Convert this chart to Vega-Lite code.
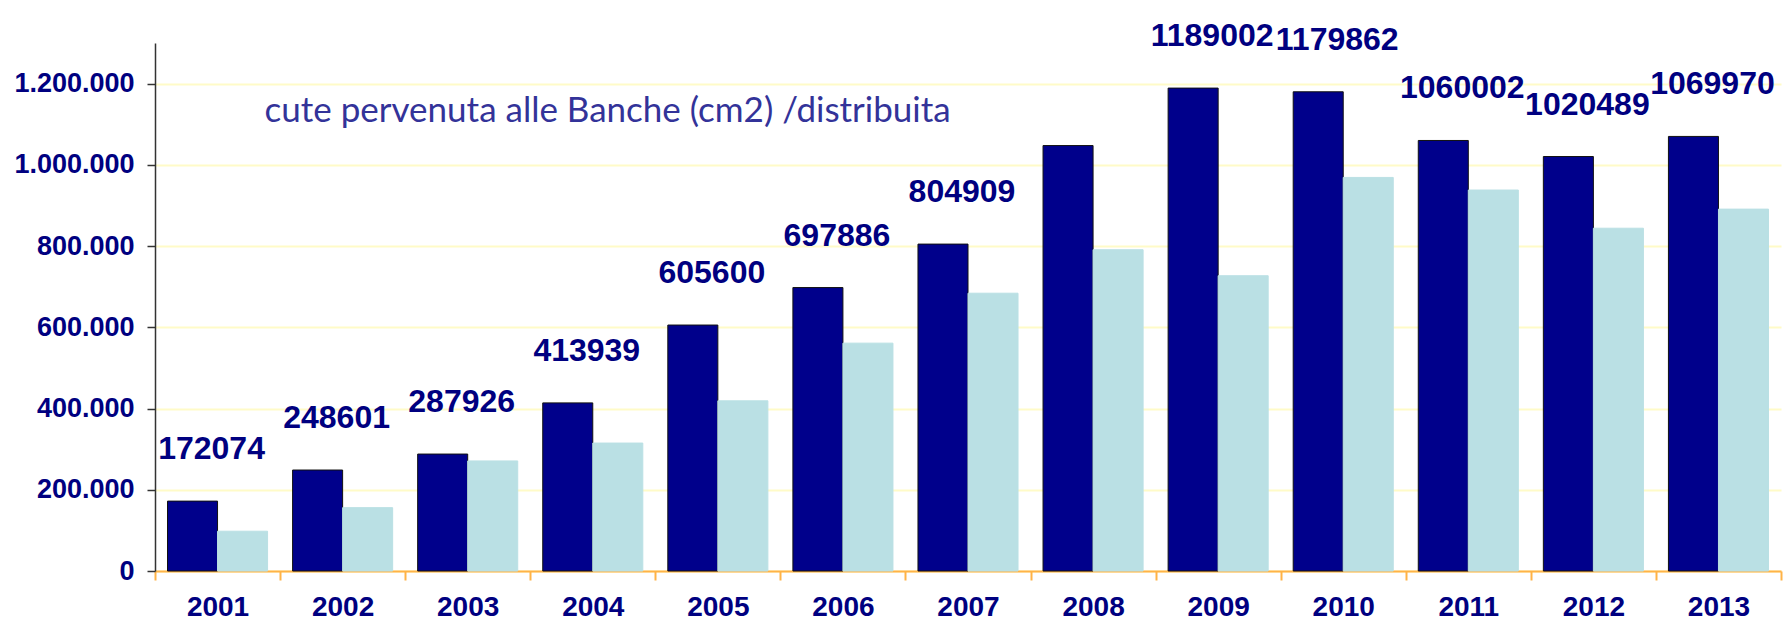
{
  "$schema": "https://vega.github.io/schema/vega-lite/v6.json",
  "width": 1626,
  "height": 528,
  "autosize": {"type": "none"},
  "padding": {"left": 155, "top": 43, "right": 5, "bottom": 52},
  "background": "white",
  "config": {"view": {"stroke": null}, "font": "Liberation Sans"},
  "data": {
    "values": [
      {"anno": "2001", "serie": "pervenuta", "valore": 172074, "etichetta": "172074"},
      {"anno": "2001", "serie": "distribuita", "valore": 98000},
      {"anno": "2002", "serie": "pervenuta", "valore": 248601, "etichetta": "248601"},
      {"anno": "2002", "serie": "distribuita", "valore": 156000},
      {"anno": "2003", "serie": "pervenuta", "valore": 287926, "etichetta": "287926"},
      {"anno": "2003", "serie": "distribuita", "valore": 271000},
      {"anno": "2004", "serie": "pervenuta", "valore": 413939, "etichetta": "413939"},
      {"anno": "2004", "serie": "distribuita", "valore": 315000},
      {"anno": "2005", "serie": "pervenuta", "valore": 605600, "etichetta": "605600"},
      {"anno": "2005", "serie": "distribuita", "valore": 419000},
      {"anno": "2006", "serie": "pervenuta", "valore": 697886, "etichetta": "697886"},
      {"anno": "2006", "serie": "distribuita", "valore": 561000},
      {"anno": "2007", "serie": "pervenuta", "valore": 804909, "etichetta": "804909"},
      {"anno": "2007", "serie": "distribuita", "valore": 684000},
      {"anno": "2008", "serie": "pervenuta", "valore": 1047500},
      {"anno": "2008", "serie": "distribuita", "valore": 791000},
      {"anno": "2009", "serie": "pervenuta", "valore": 1189002, "etichetta": "1189002"},
      {"anno": "2009", "serie": "distribuita", "valore": 727000},
      {"anno": "2010", "serie": "pervenuta", "valore": 1179862, "etichetta": "1179862"},
      {"anno": "2010", "serie": "distribuita", "valore": 969000},
      {"anno": "2011", "serie": "pervenuta", "valore": 1060002, "etichetta": "1060002"},
      {"anno": "2011", "serie": "distribuita", "valore": 938000},
      {"anno": "2012", "serie": "pervenuta", "valore": 1020489, "etichetta": "1020489"},
      {"anno": "2012", "serie": "distribuita", "valore": 844000},
      {"anno": "2013", "serie": "pervenuta", "valore": 1069970, "etichetta": "1069970"},
      {"anno": "2013", "serie": "distribuita", "valore": 891000}
    ]
  },
  "layer": [
    {
      "mark": {"type": "bar", "strokeWidth": 1},
      "encoding": {
        "x": {
          "field": "anno", "type": "nominal", "sort": null,
          "scale": {"paddingInner": 0, "paddingOuter": 0},
          "axis": {
            "title": null, "labelAngle": 0, "labelFont": "Liberation Sans", "labelFontWeight": "bold",
            "labelFontSize": 28, "labelColor": "#000080", "labelPadding": 13,
            "tickBand": "extent", "tickColor": "#FFB347", "tickSize": 9, "tickWidth": 2,
            "domainColor": "#FFB347", "domainWidth": 2, "grid": false
          }
        },
        "xOffset": {
          "field": "serie", "type": "nominal", "sort": ["pervenuta", "distribuita"],
          "scale": {"paddingInner": 0, "paddingOuter": 0.25}
        },
        "y": {
          "field": "valore", "type": "quantitative",
          "scale": {"domain": [0, 1300000], "nice": false},
          "axis": {
            "title": null,
            "values": [0, 200000, 400000, 600000, 800000, 1000000, 1200000],
            "labelExpr": "replace(format(datum.value, ','), regexp(',', 'g'), '.')",
            "labelFont": "Liberation Sans", "labelFontWeight": "bold", "labelFontSize": 27,
            "labelColor": "#000080", "labelPadding": 13,
            "tickSize": 8, "tickColor": "#333333", "tickWidth": 1.5,
            "domainColor": "#333333", "domainWidth": 1.5,
            "gridColor": "#FFFBC8", "gridWidth": 2
          }
        },
        "color": {
          "field": "serie", "type": "nominal",
          "scale": {"domain": ["pervenuta", "distribuita"], "range": ["#00008B", "#BAE0E4"]},
          "legend": null
        },
        "stroke": {
          "field": "serie", "type": "nominal",
          "scale": {"domain": ["pervenuta", "distribuita"], "range": ["#111111", "#BAE0E4"]},
          "legend": null
        }
      }
    },
    {
      "transform": [{"filter": "isValid(datum.etichetta)"}],
      "mark": {"type": "text", "font": "Liberation Sans", "fontSize": 32, "fontWeight": "bold", "color": "#000080", "baseline": "alphabetic", "dx": -6, "dy": -42},
      "encoding": {
        "x": {"field": "anno", "type": "nominal", "sort": null},
        "y": {"field": "valore", "type": "quantitative"},
        "text": {"field": "etichetta"}
      }
    },
    {
      "data": {"values": [{"testo": "cute pervenuta alle Banche (cm2) /distribuita"}]},
      "mark": {"type": "text", "align": "left", "baseline": "alphabetic", "font": "Lato", "fontSize": 35, "color": "#333399", "dx": 47},
      "encoding": {
        "x": {"datum": "2001"},
        "y": {"datum": 1105000},
        "text": {"field": "testo"}
      }
    }
  ]
}
